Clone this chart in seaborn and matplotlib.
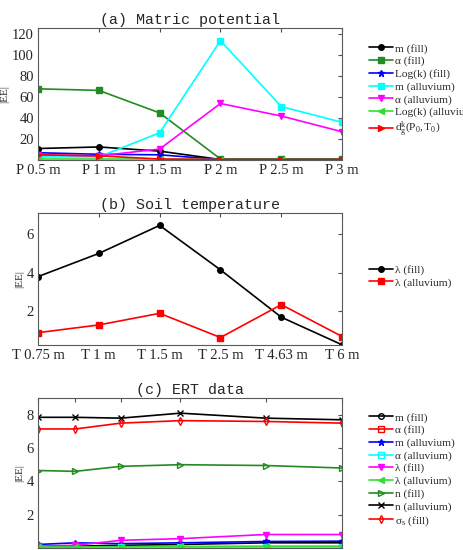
import numpy as np
import pandas as pd
import seaborn as sns
from matplotlib import pyplot as plt

# (a) matric potential
p_labels = ['P 0.5 m', 'P 1 m', 'P 1.5 m', 'P 2 m', 'P 2.5 m', 'P 3 m']
m_fill_a = [11, 12.5, 8.5, 0.5, 0.5, 0.5]
alpha_fill_a = [68, 66.5, 45, 1, 1, 1]
logk_fill_a = [7, 5.5, 5, 0.5, 0.5, 0.5]
m_all_a = [3, 3, 26, 114, 51, 36]
alpha_all_a = [5, 4, 10.5, 54, 42, 27]
logk_all_a = [1, 1, 1, 0.5, 0.5, 0.5]
dgk_a = [5, 4, 1, 0.5, 0.5, 0.5]

# (b) soil temperature
t_labels = ['T 0.75 m', 'T 1 m', 'T 1.5 m', 'T 2.5 m', 'T 4.63 m', 'T 6 m']
lam_fill_b = [3.8, 5.0, 6.45, 4.15, 1.7, 0.27]
lam_all_b = [0.9, 1.3, 1.9, 0.65, 2.35, 0.7]

# (c) ERT data
ert_x = [0.0, 1.23, 2.72, 4.68, 7.48, 10.0]
m_fill_c = [0.05, 0.1, 0.15, 0.2, 0.3, 0.3]
alpha_fill_c = [0.01, 0.01, 0.01, 0.01, 0.01, 0.01]
m_all_c = [0.2, 0.3, 0.25, 0.3, 0.38, 0.4]
alpha_all_c = [0.02, 0.02, 0.03, 0.03, 0.03, 0.03]
lam_fill_c = [0.1, 0.15, 0.45, 0.55, 0.8, 0.8]
lam_all_c = [0.05, 0.05, 0.07, 0.08, 0.1, 0.1]
n_fill_c = [4.65, 4.6, 4.9, 5.0, 4.95, 4.8]
n_all_c = [7.85, 7.85, 7.8, 8.1, 7.8, 7.7]
sig_fill_c = [7.15, 7.15, 7.5, 7.65, 7.6, 7.5]

sns.set_style("white")
plt.rcParams['font.family'] = ['Liberation Serif', 'DejaVu Serif']
plt.rcParams['mathtext.fontset'] = 'stix'

DKGREEN = '#228b22'
LIME = '#33dd33'

fig = plt.figure(figsize=(4.63, 5.5), dpi=100)
ax1 = fig.add_axes([0.082, 0.709, 0.657, 0.240])
ax2 = fig.add_axes([0.082, 0.373, 0.657, 0.240])
ax3 = fig.add_axes([0.082, 0.004, 0.657, 0.272])


def draw(ax, x, y, color, marker, label, open_mk=False, ms=4):
    sns.lineplot(x=x, y=y, ax=ax, color=color, marker=marker, label=label,
                 markersize=ms, markeredgecolor=color,
                 markerfacecolor='none' if open_mk else color,
                 markeredgewidth=1.0, linewidth=1.2)


def style(ax, title):
    ax.set_title(title, family='Liberation Mono', fontsize=10.8, pad=3)
    ax.set_ylabel('|EE|', fontsize=8, labelpad=2)
    ax.tick_params(direction='in', length=3, top=True, right=True,
                   labelsize=10.5, color='0.3', pad=3)
    for s in ax.spines.values():
        s.set_color('0.35')
        s.set_linewidth(0.8)
    ax.legend(loc='center left', bbox_to_anchor=(1.07, 0.52), frameon=False,
              fontsize=8.2, handlelength=2.1, handletextpad=0.15,
              labelspacing=0.22, borderpad=0)


xa = np.arange(len(p_labels))
draw(ax1, xa, m_fill_a, 'black', 'o', 'm (fill)')
draw(ax1, xa, alpha_fill_a, DKGREEN, 's', 'α (fill)')
draw(ax1, xa, logk_fill_a, 'blue', '*', 'Log(k) (fill)', ms=5)
draw(ax1, xa, m_all_a, 'cyan', 's', 'm (alluvium)')
draw(ax1, xa, alpha_all_a, 'magenta', 'v', 'α (alluvium)')
draw(ax1, xa, logk_all_a, LIME, '<', 'Log(k) (alluvium)')
draw(ax1, xa, dgk_a, 'red', '>', r'$\mathregular{d_g^k(P_0,T_0)}$')
ax1.set_xticks(xa)
ax1.set_xticklabels(p_labels)
ax1.set_xlim(0, 5)
ax1.set_ylim(0, 126)
ax1.set_yticks([20, 40, 60, 80, 100, 120])
style(ax1, '(a) Matric potential')

xb = np.arange(len(t_labels))
draw(ax2, xb, lam_fill_b, 'black', 'o', 'λ (fill)')
draw(ax2, xb, lam_all_b, 'red', 's', 'λ (alluvium)')
ax2.set_xticks(xb)
ax2.set_xticklabels(t_labels)
ax2.set_xlim(0, 5)
ax2.set_ylim(0.27, 7.1)
ax2.set_yticks([2, 4, 6])
style(ax2, '(b) Soil temperature')

draw(ax3, ert_x, m_fill_c, 'black', 'o', 'm (fill)', open_mk=True)
draw(ax3, ert_x, alpha_fill_c, 'red', 's', 'α (fill)', open_mk=True)
draw(ax3, ert_x, m_all_c, 'blue', '*', 'm (alluvium)', ms=5)
draw(ax3, ert_x, alpha_all_c, 'cyan', 's', 'α (alluvium)', open_mk=True)
draw(ax3, ert_x, lam_fill_c, 'magenta', 'v', 'λ (fill)')
draw(ax3, ert_x, lam_all_c, LIME, '<', 'λ (alluvium)')
draw(ax3, ert_x, n_fill_c, DKGREEN, '>', 'n (fill)', open_mk=True)
draw(ax3, ert_x, n_all_c, 'black', 'x', 'n (alluvium)')
draw(ax3, ert_x, sig_fill_c, 'red', 'd', r'σ$_\mathregular{s}$ (fill)', open_mk=True)
ax3.set_xlim(0, 10)
ax3.set_ylim(0, 9)
ax3.set_yticks([2, 4, 6, 8])
ax3.set_xticks(ert_x)
ax3.set_xticklabels([])
style(ax3, '(c) ERT data')

fig.savefig('out.png', dpi=100)
